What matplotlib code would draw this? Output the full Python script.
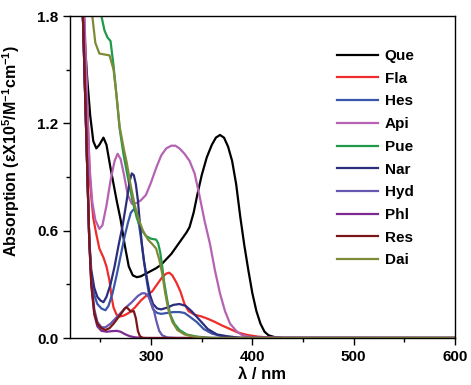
#!/usr/bin/env python3

import matplotlib
matplotlib.use("Agg")
import matplotlib.pyplot as plt
from matplotlib.ticker import MultipleLocator, FormatStrFormatter

# absorption spectra (wavelength nm, absorption)
que_x = [225, 230, 233, 237, 240, 243, 246, 249, 253, 256, 260, 263, 266, 270, 274, 278, 282, 286, 290, 295, 300, 305, 310, 315, 320, 325, 330, 335, 338, 342, 346, 350, 355, 360, 364, 368, 372, 376, 380, 384, 388, 392, 396, 400, 404, 408, 412, 416, 422, 430, 600]
que_y = [3.2, 2.3, 1.8, 1.45, 1.24, 1.10, 1.06, 1.08, 1.12, 1.08, 0.95, 0.86, 0.77, 0.66, 0.52, 0.40, 0.35, 0.34, 0.345, 0.36, 0.375, 0.39, 0.41, 0.44, 0.47, 0.51, 0.55, 0.59, 0.62, 0.70, 0.81, 0.91, 1.01, 1.08, 1.12, 1.135, 1.12, 1.07, 0.99, 0.86, 0.68, 0.52, 0.38, 0.25, 0.15, 0.08, 0.035, 0.015, 0.005, 0, 0]

fla_x = [225, 230, 234, 237, 240, 243, 246, 249, 253, 256, 259, 261, 263, 266, 269, 273, 278, 284, 290, 296, 301, 306, 311, 315, 318, 321, 325, 329, 333, 337, 343, 350, 357, 363, 370, 378, 386, 395, 405, 415, 430, 600]
fla_y = [3.2, 2.6, 1.8, 1.3, 0.85, 0.67, 0.58, 0.50, 0.45, 0.40, 0.32, 0.23, 0.17, 0.13, 0.12, 0.125, 0.14, 0.17, 0.21, 0.24, 0.26, 0.30, 0.34, 0.36, 0.365, 0.35, 0.31, 0.26, 0.19, 0.15, 0.13, 0.12, 0.105, 0.09, 0.07, 0.05, 0.03, 0.017, 0.008, 0.003, 0, 0]

hes_x = [225, 230, 233, 236, 239, 241, 244, 247, 251, 255, 258, 262, 266, 270, 274, 277, 280, 283, 285, 287, 289, 291, 293, 296, 299, 302, 306, 310, 316, 322, 328, 333, 338, 345, 352, 360, 370, 385, 600]
hes_y = [3.0, 2.2, 1.75, 1.15, 0.55, 0.34, 0.24, 0.19, 0.165, 0.155, 0.18, 0.25, 0.35, 0.46, 0.57, 0.64, 0.70, 0.72, 0.71, 0.67, 0.60, 0.52, 0.43, 0.31, 0.21, 0.16, 0.14, 0.135, 0.14, 0.145, 0.145, 0.14, 0.12, 0.09, 0.05, 0.025, 0.01, 0, 0]

api_x = [225, 230, 233, 236, 239, 242, 245, 249, 252, 256, 260, 264, 267, 270, 273, 277, 281, 286, 290, 295, 300, 305, 310, 315, 320, 324, 328, 333, 338, 343, 348, 353, 358, 363, 368, 373, 378, 384, 390, 400, 600]
api_y = [3.2, 2.5, 2.0, 1.5, 0.98, 0.76, 0.66, 0.61, 0.63, 0.74, 0.88, 0.99, 1.03, 1.00, 0.92, 0.80, 0.75, 0.755, 0.77, 0.80, 0.87, 0.95, 1.02, 1.06, 1.075, 1.075, 1.06, 1.03, 0.99, 0.92, 0.79, 0.65, 0.53, 0.38, 0.25, 0.15, 0.08, 0.04, 0.015, 0.003, 0]

pue_x = [225, 240, 246, 249, 251, 254, 257, 260, 263, 266, 269, 273, 277, 282, 286, 290, 295, 300, 305, 307, 309, 311, 313, 316, 319, 323, 328, 335, 345, 360, 600]
pue_y = [3.8, 2.4, 2.05, 1.9, 1.8, 1.72, 1.68, 1.66, 1.52, 1.35, 1.17, 1.02, 0.90, 0.76, 0.67, 0.61, 0.57, 0.555, 0.55, 0.53, 0.48, 0.40, 0.31, 0.21, 0.13, 0.08, 0.045, 0.02, 0.008, 0, 0]

nar_x = [225, 230, 233, 236, 239, 241, 244, 247, 250, 253, 256, 260, 264, 268, 272, 276, 279, 281, 283, 285, 287, 289, 291, 293, 296, 299, 302, 306, 310, 316, 322, 328, 334, 340, 348, 356, 365, 375, 390, 600]
nar_y = [3.0, 2.2, 1.75, 1.15, 0.55, 0.38, 0.28, 0.23, 0.21, 0.20, 0.23, 0.30, 0.40, 0.52, 0.63, 0.77, 0.88, 0.92, 0.91, 0.86, 0.77, 0.64, 0.52, 0.43, 0.33, 0.24, 0.19, 0.165, 0.16, 0.17, 0.185, 0.19, 0.18, 0.15, 0.10, 0.05, 0.02, 0.01, 0, 0]

hyd_x = [225, 230, 233, 236, 239, 241, 244, 247, 251, 255, 260, 265, 270, 275, 281, 287, 291, 294, 297, 300, 303, 305, 308, 311, 316, 325, 600]
hyd_y = [3.0, 2.2, 1.75, 1.15, 0.55, 0.32, 0.16, 0.09, 0.06, 0.06, 0.08, 0.11, 0.14, 0.17, 0.20, 0.235, 0.25, 0.25, 0.235, 0.20, 0.15, 0.10, 0.04, 0.015, 0.003, 0, 0]

phl_x = [225, 230, 233, 236, 239, 241, 244, 247, 251, 256, 261, 266, 270, 274, 279, 284, 290, 297, 600]
phl_y = [3.0, 2.2, 1.75, 1.15, 0.55, 0.30, 0.13, 0.065, 0.04, 0.035, 0.038, 0.04, 0.035, 0.022, 0.01, 0.004, 0.001, 0, 0]

res_x = [225, 230, 233, 236, 239, 241, 244, 247, 251, 255, 259, 263, 267, 271, 274, 276, 278, 280, 283, 285, 287, 289, 292, 600]
res_y = [3.0, 2.2, 1.75, 1.15, 0.55, 0.30, 0.14, 0.08, 0.055, 0.045, 0.055, 0.08, 0.11, 0.14, 0.165, 0.172, 0.16, 0.148, 0.15, 0.11, 0.04, 0.01, 0, 0]

dai_x = [225, 236, 240, 242, 245, 249, 254, 259, 263, 266, 269, 273, 276, 280, 284, 288, 292, 297, 302, 305, 308, 311, 314, 317, 321, 326, 333, 342, 355, 600]
dai_y = [3.8, 2.2, 1.9, 1.8, 1.65, 1.59, 1.585, 1.58, 1.50, 1.35, 1.18, 1.06, 0.98, 0.85, 0.74, 0.66, 0.60, 0.55, 0.52, 0.50, 0.44, 0.36, 0.25, 0.16, 0.09, 0.045, 0.02, 0.008, 0, 0]

names = ["Que", "Fla", "Hes", "Api", "Pue", "Nar", "Hyd", "Phl", "Res", "Dai"]
colors = ["#000000", "#ee2c2c", "#3a56a8", "#b562b3", "#1f9a4a",
          "#2b2d7d", "#6757b0", "#7d2b92", "#7a1518", "#7f8a38"]
series = [(que_x, que_y), (fla_x, fla_y), (hes_x, hes_y), (api_x, api_y), (pue_x, pue_y),
          (nar_x, nar_y), (hyd_x, hyd_y), (phl_x, phl_y), (res_x, res_y), (dai_x, dai_y)]

plt.rcParams["font.family"] = "Liberation Sans"
plt.rcParams["font.weight"] = "bold"
plt.rcParams["mathtext.fontset"] = "custom"
plt.rcParams["mathtext.rm"] = "Liberation Sans:bold"
plt.rcParams["mathtext.it"] = "Liberation Sans:bold"
plt.rcParams["mathtext.bf"] = "Liberation Sans:bold"

fig = plt.figure(figsize=(4.71, 3.85), dpi=100)
ax = fig.add_axes([70 / 471, 47 / 385, 385 / 471, 322 / 385])

for (x, y), name, c in zip(series, names, colors):
    ax.plot(x, y, color=c, lw=1.6, label=name, solid_joinstyle="round")

ax.set_xlim(220, 600)
ax.set_ylim(0, 1.8)
ax.xaxis.set_major_locator(MultipleLocator(100))
ax.xaxis.set_minor_locator(MultipleLocator(50))
ax.yaxis.set_major_locator(MultipleLocator(0.6))
ax.yaxis.set_minor_locator(MultipleLocator(0.3))
ax.yaxis.set_major_formatter(FormatStrFormatter("%.1f"))
ax.tick_params(which="major", length=5, width=1, labelsize=11)
ax.tick_params(which="minor", length=3, width=1)
for s in ax.spines.values():
    s.set_linewidth(1)

ax.set_xlabel("λ / nm", fontsize=12, fontweight="bold", labelpad=2)
ax.set_ylabel(r"Absorption (εX10$^{5}$/M$^{-1}$cm$^{-1}$)", fontsize=11.5, fontweight="bold")
ax.yaxis.set_label_coords(-0.125, 0.58)

ax.legend(loc="upper left", bbox_to_anchor=(0.657, 0.94), frameon=False,
          handlelength=2.7, handletextpad=0.45, labelspacing=0.57,
          prop={"family": "Liberation Sans", "weight": "bold", "size": 11})

fig.savefig("out.png", dpi=100)
